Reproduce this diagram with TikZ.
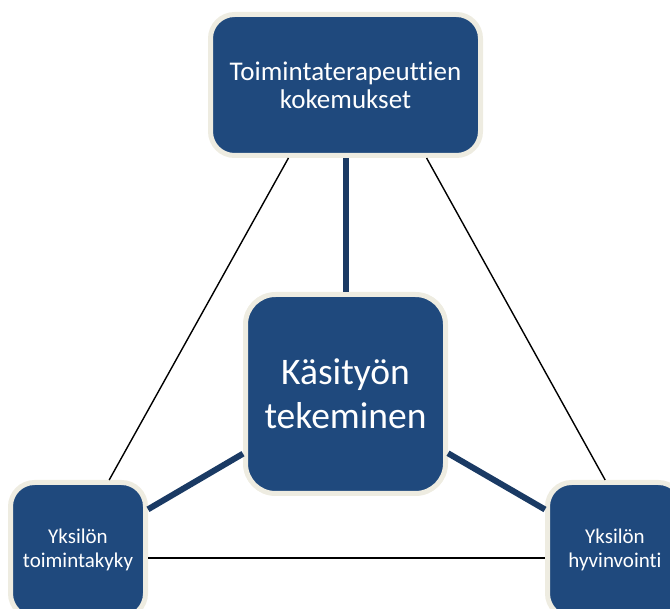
\documentclass[tikz,border=0pt]{standalone}
\usepackage{fontspec}
\setmainfont{Carlito}[Ligatures=NoCommon]
\definecolor{boxblue}{RGB}{31,73,125}
\definecolor{boxrim}{RGB}{238,236,225}
\definecolor{linkblue}{RGB}{26,58,100}
\tikzset{
  box/.style={draw=boxrim, line width=5pt, fill=boxblue, rounded corners=24pt,
    text=white, align=center, inner sep=0pt},
  thick link/.style={draw=linkblue, line width=6pt},
  thin link/.style={draw=black, line width=1.4pt}
}
\begin{document}
\begin{tikzpicture}[x=1pt,y=-1pt]
      \useasboundingbox (0,0) rectangle (670,609);
      \draw
        (345.5,85) node[box, minimum width=270pt, minimum height=141pt,
          font=\fontsize{27}{28}\selectfont] (kok) {Toimintaterapeuttien\\kokemukset}
        (345.5,394) node[box, minimum width=200pt, minimum height=199pt, rounded corners=30pt,
          font=\fontsize{37.5}{44}\selectfont] (kas) {Käsityön\\tekeminen}
        (78,550) node[box, minimum width=135pt, minimum height=135pt,
          font=\fontsize{21}{24}\selectfont] (tk) {Yksilön\\toimintakyky}
        (615,550) node[box, minimum width=135pt, minimum height=135pt,
          font=\fontsize{21}{24}\selectfont] (hv) {Yksilön\\hyvinvointi};
      \begin{scope}[thin link]
        \draw (kok.232.5) to (tk.66);
        \draw (kok.318) to (hv.98);
        \draw ([yshift=-8pt]tk.east) to ([yshift=-8pt]hv.west);
      \end{scope}
      \begin{scope}[thick link]
        \draw (kas) to (kok);
        \draw (kas) to (tk);
        \draw (kas) to (hv);
      \end{scope}
    \end{tikzpicture}
\end{document}
